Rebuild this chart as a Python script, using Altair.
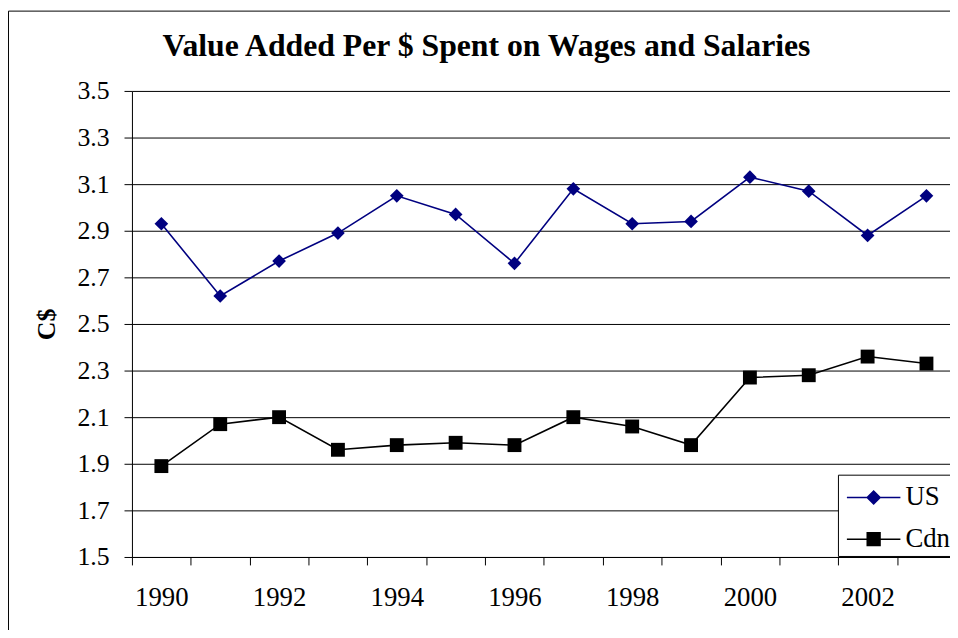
import altair as alt
import pandas as pd

# ---- data ----
years = list(range(1990, 2004))
us_values = [2.93, 2.62, 2.77, 2.89, 3.05, 2.97, 2.76, 3.08, 2.93, 2.94, 3.13, 3.07, 2.88, 3.05]
cdn_values = [1.89, 2.07, 2.10, 1.96, 1.98, 1.99, 1.98, 2.10, 2.06, 1.98, 2.27, 2.28, 2.36, 2.33]
series_names = ["US", "Cdn"]
series_colors = ["#000080", "#000000"]
y_tick_values = [1.5, 1.7, 1.9, 2.1, 2.3, 2.5, 2.7, 2.9, 3.1, 3.3, 3.5]
label_years = [1990, 1992, 1994, 1996, 1998, 2000, 2002]
boundary_ticks = [y - 0.5 for y in years]

title_text = "Value Added Per $ Spent on Wages and Salaries"
y_title = "C$"

df = pd.DataFrame({
    "year": years + years,
    "value": us_values + cdn_values,
    "series": [series_names[0]] * len(years) + [series_names[1]] * len(years),
})

SERIF = "'Liberation Serif', 'Times New Roman', Times, serif"
W, H = 825, 470
TOP = 81

# legend symbols: line segment through a marker (filled paths)
us_symbol = "M-1.42,-0.04H1.42V0.04H-1.42Z M0,-0.40L0.40,0L0,0.40L-0.40,0Z"
cdn_symbol = "M-1.42,-0.04H1.42V0.04H-1.42Z M-0.38,-0.38H0.38V0.38H-0.38Z"

x_enc = alt.X(
    "year:Q",
    scale=alt.Scale(domain=[1989.5, 2003.4], nice=False, zero=False),
    axis=alt.Axis(
        title=None,
        values=sorted(boundary_ticks + label_years),
        labelExpr="datum.value % 1 == 0 ? format(datum.value, 'd') : ''",
        tickOpacity={"condition": {"test": "datum.value % 1 == 0", "value": 0}, "value": 1},
        labelOverlap=False,
        labelFlush=False,
        grid=False,
        tickSize=8,
        tickColor="black",
        domainColor="black",
        labelFont=SERIF,
        labelFontSize=27,
        labelColor="black",
        labelPadding=20,
    ),
)
y_enc = alt.Y(
    "value:Q",
    scale=alt.Scale(domain=[1.5, 3.5], nice=False, zero=False),
    axis=alt.Axis(
        title=y_title,
        values=y_tick_values,
        format=".1f",
        grid=True,
        gridColor="black",
        gridOpacity=1,
        gridWidth=1,
        tickSize=8,
        tickColor="black",
        domainColor="black",
        labelFont=SERIF,
        labelFontSize=26,
        labelColor="black",
        labelPadding=15,
        titleFont=SERIF,
        titleFontSize=26,
        titleFontWeight="bold",
        titleColor="black",
        titleAngle=270,
        titleX=-86,
        titleY=H / 2,
        titleAlign="center",
        titleBaseline="middle",
    ),
)

base = alt.Chart(df)

frame = alt.Chart(alt.Data(values=[{}])).mark_rect(
    fillOpacity=0, stroke="black", strokeWidth=1
).encode(
    x=alt.value(-124.5), x2=alt.value(W + 20), y=alt.value(-TOP + 0.5), y2=alt.value(H + 200)
)

us_line = base.transform_filter(alt.datum.series == "US").mark_line(
    color=series_colors[0], strokeWidth=1.6
).encode(x=x_enc, y=y_enc)
cdn_line = base.transform_filter(alt.datum.series == "Cdn").mark_line(
    color=series_colors[1], strokeWidth=1.6
).encode(x=x_enc, y=y_enc)
us_pts = base.transform_filter(alt.datum.series == "US").mark_point(
    shape="diamond", filled=True, color=series_colors[0], size=190, opacity=1
).encode(x=x_enc, y=y_enc)
cdn_pts = base.transform_filter(alt.datum.series == "Cdn").mark_point(
    shape="square", filled=True, color=series_colors[1], size=196, opacity=1
).encode(x=x_enc, y=y_enc)

legend_props = dict(
    title=None,
    orient="none",
    legendX=712,
    legendY=387,
    direction="vertical",
    fillColor="white",
    strokeColor="black",
    padding=4,
    symbolOffset=13,
    labelOffset=13,
    labelFont=SERIF,
    labelFontSize=27,
    labelColor="black",
    rowPadding=10,
    symbolSize=1444,
    symbolOpacity=1,
    symbolStrokeWidth=0,
)

legend_layer = base.transform_filter("false").mark_point(
    filled=True, size=1444, strokeWidth=0
).encode(
    x=x_enc,
    y=y_enc,
    color=alt.Color("series:N", scale=alt.Scale(domain=series_names, range=series_colors),
                    legend=alt.Legend(**legend_props)),
    shape=alt.Shape("series:N", scale=alt.Scale(domain=series_names, range=[us_symbol, cdn_symbol]),
                    legend=alt.Legend(**legend_props)),
)

chart = alt.layer(frame, us_line, cdn_line, us_pts, cdn_pts, legend_layer).properties(
    width=W,
    height=H,
    padding={"left": 125, "top": TOP, "right": 0, "bottom": 622 - TOP - H},
    autosize=alt.AutoSizeParams(type="none"),
    title=alt.TitleParams(
        text=title_text,
        font=SERIF,
        fontSize=32,
        fontWeight="bold",
        color="black",
        anchor="middle",
        baseline="alphabetic",
        dx=-55,
        offset=-78,
    ),
).configure_view(stroke=None).configure(background="white")

chart.save("out.html", embed_options={"renderer": "svg", "actions": False})
